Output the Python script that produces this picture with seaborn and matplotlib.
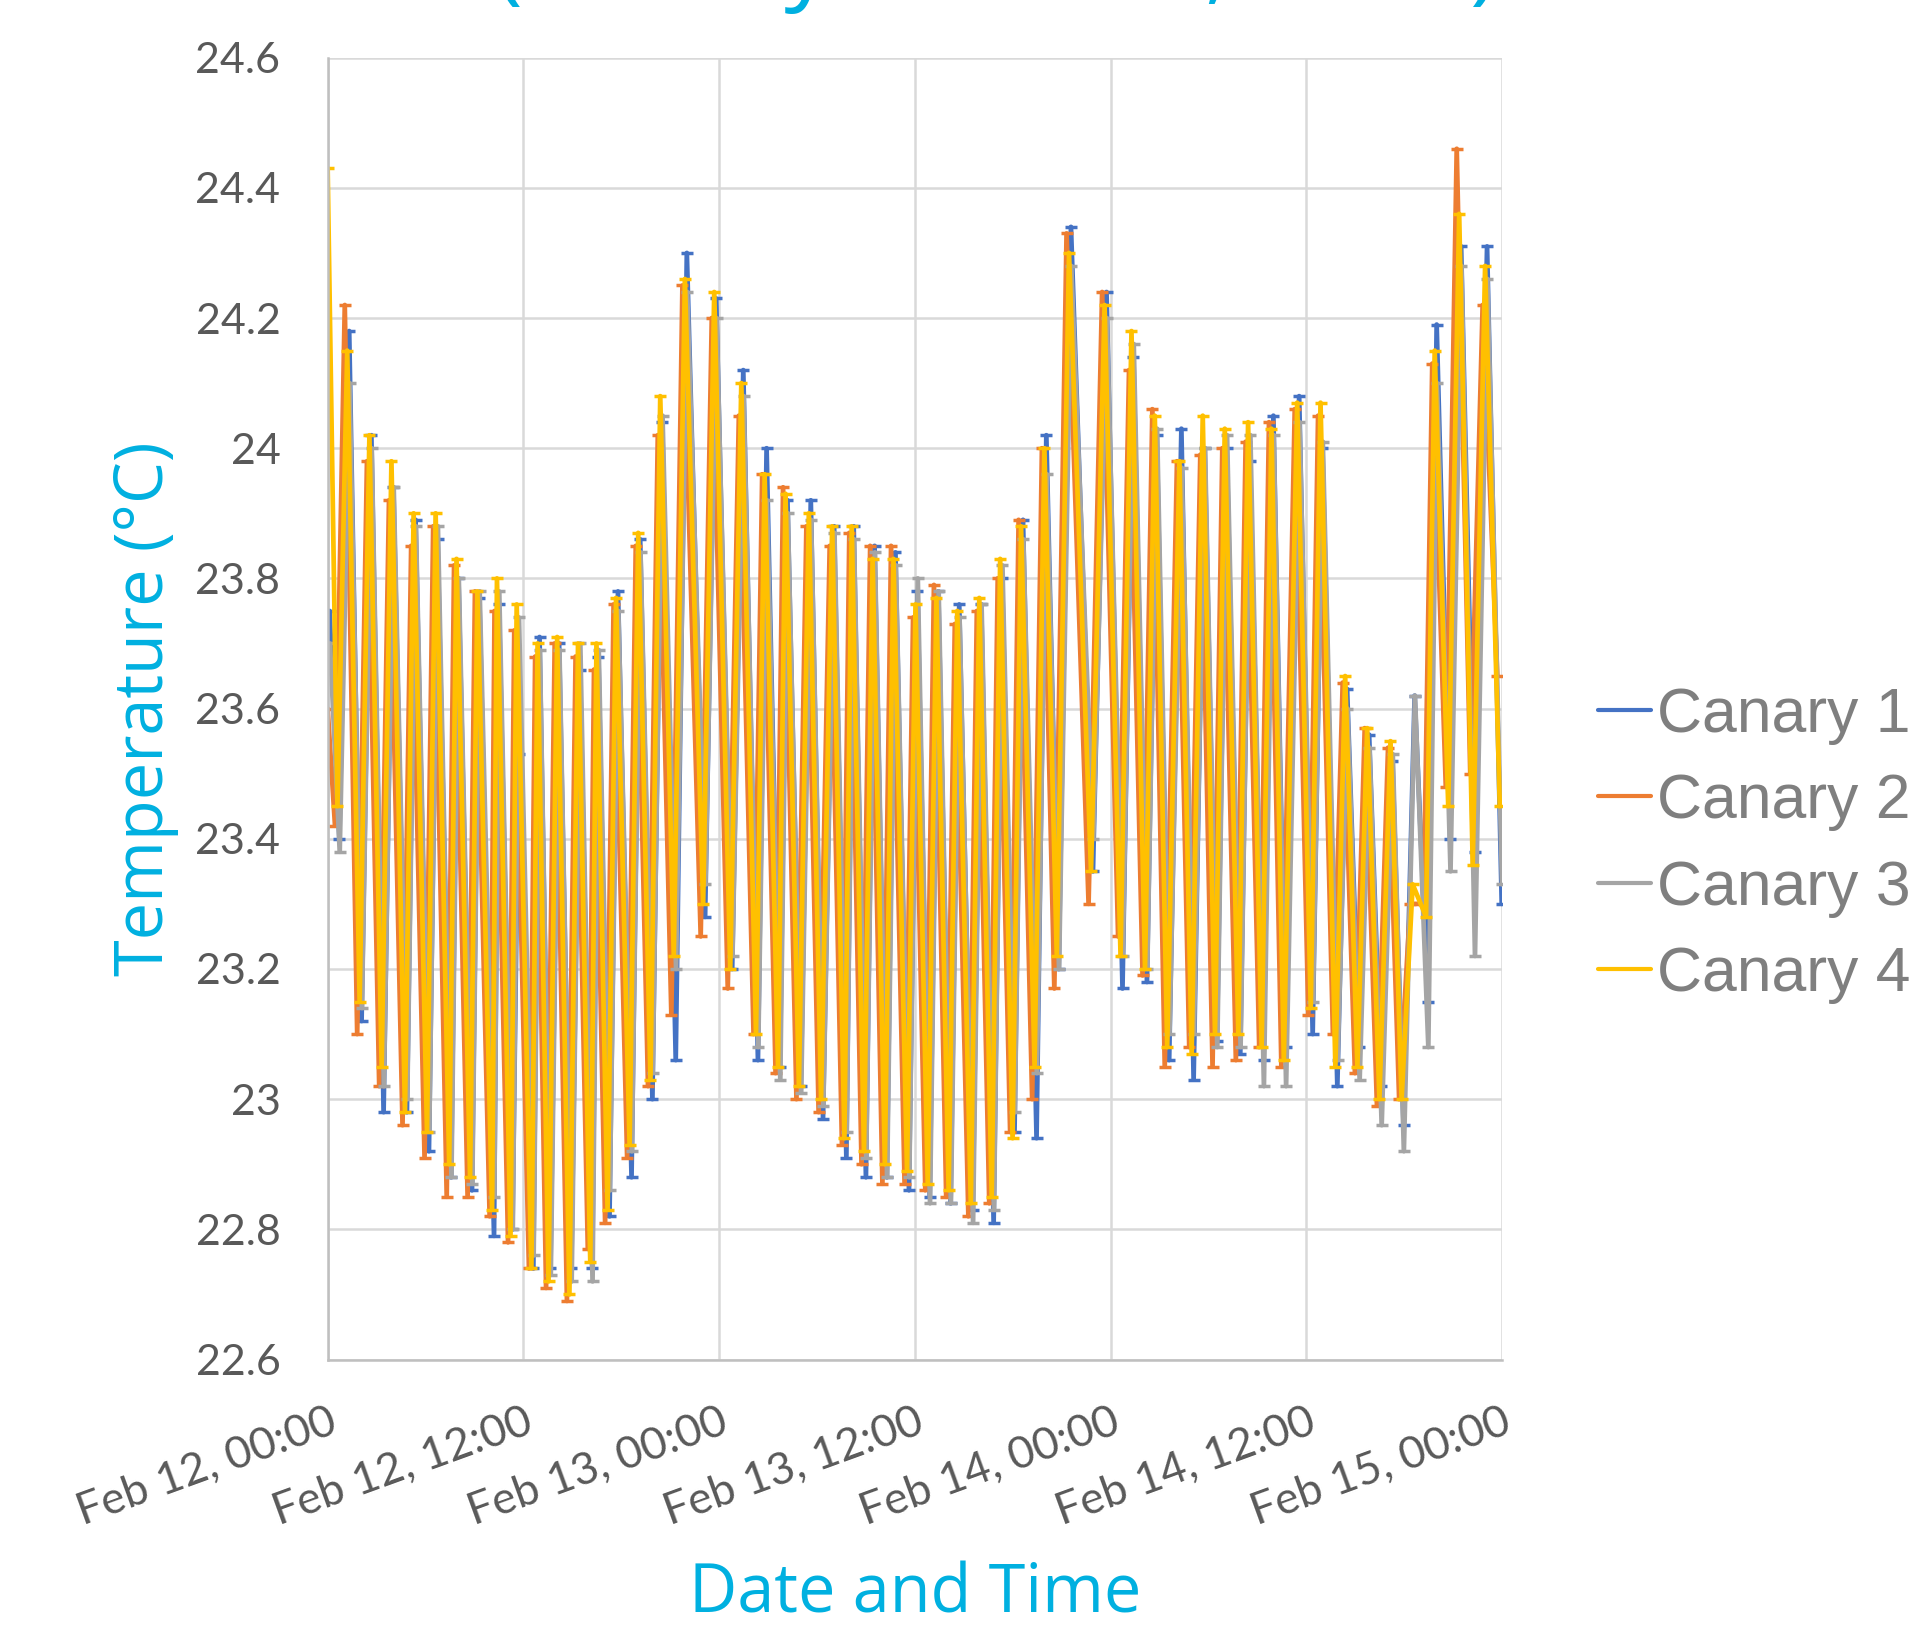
import pandas as pd
import matplotlib.pyplot as plt
import matplotlib.dates as mdates
import matplotlib.ticker as mticker
import seaborn as sns

# turning points of the daily temperature cycles, hours after Feb 12 00:00
hours = [0.0, 0.60, 1.20, 1.96, 2.56, 3.31, 3.91, 4.74, 5.27, 6.09,
         6.62, 7.45, 7.90, 8.73, 9.18, 10.08, 10.38, 11.21, 11.59, 12.49,
         12.87, 13.54, 14.07, 14.82, 15.35, 16.10, 16.48, 17.16, 17.68, 18.51,
         19.04, 19.79, 20.39, 21.22, 21.90, 23.02, 23.70, 24.68, 25.36, 26.26,
         26.79, 27.61, 28.07, 28.89, 29.50, 30.25, 30.93, 31.68, 32.13, 32.88,
         33.41, 34.16, 34.69, 35.52, 36.04, 36.79, 37.32, 38.07, 38.60, 39.43,
         39.95, 40.71, 41.23, 41.99, 42.51, 43.34, 43.94, 44.70, 45.45, 46.80,
         47.63, 48.61, 49.28, 50.11, 50.71, 51.47, 52.22, 52.97, 53.65, 54.40,
         55.00, 55.83, 56.43, 57.26, 57.86, 58.62, 59.44, 60.27, 60.87, 61.78,
         62.38, 63.13, 63.73, 64.48, 65.16, 65.84, 66.52, 67.34, 67.87, 68.70,
         69.37, 70.20, 70.96, 71.86]

canary1 = [23.75, 23.40, 24.18, 23.12, 24.02, 22.98, 23.94, 22.98, 23.89, 22.92,
           23.86, 22.88, 23.80, 22.86, 23.77, 22.79, 23.76, 22.80, 23.53, 22.74,
           23.71, 22.74, 23.70, 22.74, 23.66, 22.74, 23.68, 22.82, 23.78, 22.88,
           23.86, 23.00, 24.04, 23.06, 24.30, 23.28, 24.23, 23.20, 24.12, 23.06,
           24.00, 23.05, 23.92, 23.02, 23.92, 22.97, 23.88, 22.91, 23.88, 22.88,
           23.85, 22.88, 23.84, 22.86, 23.78, 22.85, 23.78, 22.84, 23.76, 22.83,
           23.76, 22.81, 23.80, 22.95, 23.89, 22.94, 24.02, 23.20, 24.34, 23.35,
           24.24, 23.17, 24.14, 23.18, 24.02, 23.06, 24.03, 23.03, 24.00, 23.09,
           24.00, 23.07, 23.98, 23.06, 24.05, 23.08, 24.08, 23.10, 24.00, 23.02,
           23.63, 23.08, 23.56, 23.02, 23.52, 22.96, 23.62, 23.15, 24.19, 23.40,
           24.31, 23.38, 24.31, 23.30]

canary2 = [23.60, 23.42, 24.22, 23.10, 23.98, 23.02, 23.92, 22.96, 23.85, 22.91,
           23.88, 22.85, 23.82, 22.85, 23.78, 22.82, 23.75, 22.78, 23.72, 22.74,
           23.68, 22.71, 23.70, 22.69, 23.68, 22.77, 23.66, 22.81, 23.76, 22.91,
           23.85, 23.02, 24.02, 23.13, 24.25, 23.25, 24.20, 23.17, 24.05, 23.10,
           23.96, 23.04, 23.94, 23.00, 23.88, 22.98, 23.85, 22.93, 23.87, 22.90,
           23.85, 22.87, 23.85, 22.87, 23.74, 22.86, 23.79, 22.85, 23.73, 22.82,
           23.75, 22.84, 23.80, 22.95, 23.89, 23.00, 24.00, 23.17, 24.33, 23.30,
           24.24, 23.25, 24.12, 23.19, 24.06, 23.05, 23.98, 23.08, 23.99, 23.05,
           24.00, 23.06, 24.01, 23.08, 24.04, 23.05, 24.06, 23.13, 24.05, 23.10,
           23.64, 23.04, 23.57, 22.99, 23.54, 23.00, 23.30, 23.30, 24.13, 23.48,
           24.46, 23.50, 24.22, 23.65]

canary3 = [23.70, 23.38, 24.10, 23.14, 24.00, 23.02, 23.94, 23.00, 23.88, 22.95,
           23.88, 22.88, 23.80, 22.87, 23.78, 22.85, 23.78, 22.80, 23.74, 22.76,
           23.69, 22.73, 23.69, 22.72, 23.70, 22.72, 23.69, 22.86, 23.75, 22.92,
           23.84, 23.04, 24.05, 23.20, 24.24, 23.33, 24.20, 23.22, 24.08, 23.08,
           23.92, 23.03, 23.90, 23.01, 23.89, 22.99, 23.87, 22.95, 23.86, 22.91,
           23.84, 22.88, 23.82, 22.88, 23.80, 22.84, 23.78, 22.84, 23.74, 22.81,
           23.76, 22.83, 23.82, 22.98, 23.86, 23.04, 23.96, 23.20, 24.28, 23.40,
           24.20, 23.22, 24.16, 23.20, 24.03, 23.10, 23.97, 23.10, 24.00, 23.08,
           24.02, 23.08, 24.02, 23.02, 24.02, 23.02, 24.04, 23.15, 24.01, 23.06,
           23.60, 23.03, 23.54, 22.96, 23.53, 22.92, 23.62, 23.08, 24.10, 23.35,
           24.28, 23.22, 24.26, 23.33]

canary4 = [24.43, 23.45, 24.15, 23.15, 24.02, 23.05, 23.98, 22.98, 23.90, 22.95,
           23.90, 22.90, 23.83, 22.88, 23.78, 22.83, 23.80, 22.79, 23.76, 22.74,
           23.70, 22.72, 23.71, 22.70, 23.70, 22.75, 23.70, 22.83, 23.77, 22.93,
           23.87, 23.03, 24.08, 23.22, 24.26, 23.30, 24.24, 23.20, 24.10, 23.10,
           23.96, 23.05, 23.93, 23.02, 23.90, 23.00, 23.88, 22.94, 23.88, 22.92,
           23.83, 22.90, 23.83, 22.89, 23.76, 22.87, 23.77, 22.86, 23.75, 22.84,
           23.77, 22.85, 23.83, 22.94, 23.88, 23.05, 24.00, 23.22, 24.30, 23.35,
           24.22, 23.22, 24.18, 23.20, 24.05, 23.08, 23.98, 23.07, 24.05, 23.10,
           24.03, 23.10, 24.04, 23.08, 24.03, 23.06, 24.07, 23.14, 24.07, 23.05,
           23.65, 23.05, 23.57, 23.00, 23.55, 23.00, 23.33, 23.28, 24.15, 23.45,
           24.36, 23.36, 24.28, 23.45]

sensors = ['Canary 1', 'Canary 2', 'Canary 3', 'Canary 4']
# each sensor logs a little earlier or later than Canary 4 (hours)
lag_hours = [0.12, -0.15, 0.14, 0.0]
colors = ['#4472C4', '#ED7D31', '#A5A5A5', '#FFC000']

start = pd.Timestamp('2024-02-12 00:00')
frames = []
for name, vals, lag in zip(sensors, [canary1, canary2, canary3, canary4], lag_hours):
    t = start + pd.to_timedelta([max(0.0, h + lag) for h in hours], unit='h')
    frames.append(pd.DataFrame({'time': t, 'temp': vals, 'sensor': name}))
df = pd.concat(frames, ignore_index=True)

sns.set_style('white')
fig = plt.figure(figsize=(19.24, 16.28), dpi=100)
ax = fig.add_axes([0.1703, 0.1649, 0.6104, 0.7997])

sns.lineplot(data=df, x='time', y='temp', hue='sensor', palette=colors,
             sort=False, estimator=None, linewidth=3.4, marker='_',
             markersize=9, markeredgewidth=2.5, ax=ax)
for line in ax.lines:
    line.set_markeredgecolor(line.get_color())

ax.set_xlim(start, start + pd.Timedelta(hours=72))
ax.set_ylim(22.6, 24.6)
ax.xaxis.set_major_locator(mdates.HourLocator(byhour=[0, 12]))
ax.xaxis.set_major_formatter(mdates.DateFormatter('%b %d, %H:%M'))
ax.yaxis.set_major_locator(mticker.MultipleLocator(0.2))
ax.yaxis.set_major_formatter(mticker.FuncFormatter(lambda v, p: f'{round(v, 1):g}'))

ax.grid(True, color='#D9D9D9', linewidth=1.8)
ax.set_axisbelow(True)
for s in ['top', 'right']:
    ax.spines[s].set_visible(False)
for s in ['left', 'bottom']:
    ax.spines[s].set_color('#BFBFBF')
    ax.spines[s].set_linewidth(1.8)

ax.tick_params(axis='both', length=0, colors='#595959')
ax.tick_params(axis='y', pad=34)
ax.tick_params(axis='x', pad=30)
for lab in ax.get_yticklabels():
    lab.set_fontfamily('Lato')
    lab.set_fontsize(31)
for lab in ax.get_xticklabels():
    lab.set_fontfamily('Lato')
    lab.set_fontsize(32)
    lab.set_rotation(20)
    lab.set_ha('right')
    lab.set_va('top')
    lab.set_rotation_mode('anchor')

cyan = '#00B0E0'
ax.set_xlabel('Date and Time', fontsize=48, color=cyan, family='Open Sans', labelpad=20)
ax.set_ylabel('Temperature (°C)', fontsize=48, color=cyan, family='Open Sans', labelpad=12)

# title sits mostly above the canvas, only the descenders show
fig.text(0.518, 1.005, '(Canary Sensors, 2024)', fontsize=68, color=cyan,
         family='Open Sans', ha='center', va='baseline')

handles, labels = ax.get_legend_handles_labels()
for h in handles:
    h.set_marker('')
    h.set_linewidth(3)
ax.legend(handles, labels, loc='center left', bbox_to_anchor=(0.8306, 0.481),
          bbox_transform=fig.transFigure, frameon=False, borderpad=0,
          borderaxespad=0, handlelength=0.85, handletextpad=0.1, labelspacing=0.44,
          prop={'family': 'Liberation Sans', 'size': 45}, labelcolor='#7F7F7F')

fig.savefig('out.png', dpi=100)
